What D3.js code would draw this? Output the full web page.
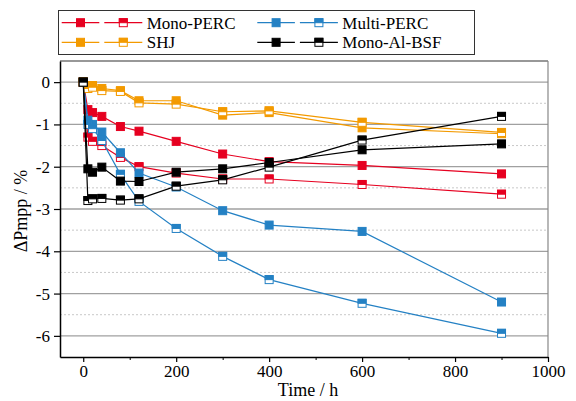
<!DOCTYPE html>
<html><head><meta charset="utf-8">
<script src="https://cdn.jsdelivr.net/npm/d3@7"></script>
<style>body{margin:0;background:#fff}svg{display:block}svg text{font-family:"Liberation Serif","Times New Roman",serif !important}</style>
</head><body>
<script>
const times = [0, 10, 20, 40, 80, 120, 200, 300, 400, 600, 900];
const monoPercFilled = [0, -0.65, -0.72, -0.81, -1.05, -1.16, -1.4, -1.7, -1.88, -1.97, -2.17];
const monoPercOpen   = [0, -1.3, -1.4, -1.5, -1.78, -2.0, -2.15, -2.29, -2.29, -2.42, -2.65];
const multiFilled    = [0, -0.9, -1.0, -1.18, -1.67, -2.15, -2.48, -3.04, -3.38, -3.53, -5.2];
const multiOpen      = [0, -1.0, -1.1, -1.38, -2.18, -2.82, -3.46, -4.12, -4.67, -5.23, -5.94];
const shjFilled      = [0, -0.1, -0.08, -0.15, -0.2, -0.44, -0.44, -0.78, -0.72, -1.08, -1.22];
const shjOpen        = [0, -0.15, -0.12, -0.2, -0.22, -0.49, -0.52, -0.7, -0.68, -0.95, -1.19];
const alBsfFilled    = [0, -2.05, -2.13, -2.01, -2.34, -2.35, -2.13, -2.05, -1.9, -1.6, -1.46];
const alBsfOpen      = [0, -2.8, -2.76, -2.75, -2.79, -2.76, -2.46, -2.31, -2.01, -1.37, -0.81];
const xTicks = [0, 200, 400, 600, 800, 1000];
const yTicks = [0, -1, -2, -3, -4, -5, -6];
const legendNames = ["Mono-PERC", "Multi-PERC", "SHJ", "Mono-Al-BSF"];

const colors = {red: "#e60020", blue: "#2481c4", orange: "#f39a00", black: "#000000"};
const series = [
  {name: "Mono-PERC", color: colors.red, filled: monoPercFilled, open: monoPercOpen},
  {name: "Multi-PERC", color: colors.blue, filled: multiFilled, open: multiOpen},
  {name: "SHJ", color: colors.orange, filled: shjFilled, open: shjOpen},
  {name: "Mono-Al-BSF", color: colors.black, filled: alBsfFilled, open: alBsfOpen}
];

const W = 576, H = 401;
const m = {l: 60, r: 28, t: 61, b: 44};
const svg = d3.select("body").append("svg").attr("width", W).attr("height", H);
const x = d3.scaleLinear().domain([-50, 1000]).range([m.l, W - m.r]);
const y = d3.scaleLinear().domain([-6.5, 0.5]).range([H - m.b, m.t]);

// grid
const g = svg.append("g");
g.selectAll(".minor").data(d3.range(-6.5, 0.5, 1).filter(v => v > -6.5)).join("line")
  .attr("x1", m.l).attr("x2", W - m.r).attr("y1", d => y(d)).attr("y2", d => y(d))
  .attr("stroke", "#c8c8c8").attr("stroke-width", 1).attr("stroke-dasharray", "2,2");
g.selectAll(".major").data(yTicks).join("line")
  .attr("x1", m.l).attr("x2", W - m.r).attr("y1", d => y(d)).attr("y2", d => y(d))
  .attr("stroke", "#a0a0a0").attr("stroke-width", 1.3);

// frame top/right
svg.append("line").attr("x1", m.l).attr("x2", W - m.r).attr("y1", m.t).attr("y2", m.t).attr("stroke", "#333").attr("stroke-width", 1.2);
svg.append("line").attr("x1", W - m.r).attr("x2", W - m.r).attr("y1", m.t).attr("y2", H - m.b).attr("stroke", "#888").attr("stroke-width", 1.2);

// axes
const xAxis = svg.append("g").attr("transform", `translate(0,${H - m.b})`)
  .call(d3.axisBottom(x).tickValues(xTicks).tickSize(5).tickSizeOuter(0).tickPadding(3).tickFormat(d3.format("d")));
svg.append("g").attr("transform", `translate(0,${H - m.b})`)
  .call(d3.axisBottom(x).tickValues([100, 300, 500, 700, 900]).tickSize(3).tickSizeOuter(0).tickFormat(""))
  .select(".domain").remove();
const yAxis = svg.append("g").attr("transform", `translate(${m.l},0)`)
  .call(d3.axisLeft(y).tickValues(yTicks).tickSize(6).tickSizeOuter(0).tickPadding(4).tickFormat(d3.format("d")));
[xAxis, yAxis].forEach(a => {
  a.attr("font-family", null);
  a.selectAll("text").attr("font-size", 17).attr("fill", "#000");
  a.selectAll("line").attr("stroke", "#000").attr("stroke-width", 1.2);
  a.select(".domain").attr("stroke", "#000").attr("stroke-width", 1.5);
});
yAxis.selectAll("text").text(d => d === 0 ? "0" : "-" + Math.abs(d));

// axis titles
svg.append("text").attr("x", 308).attr("y", 396).attr("text-anchor", "middle").attr("font-size", 18).text("Time / h");
svg.append("text").attr("transform", `translate(27,${(m.t + H - m.b) / 2 + 2}) rotate(-90)`)
  .attr("text-anchor", "middle").attr("font-size", 18).text("ΔPmpp / %");

const S = 8;
function marker(sel, color, open) {
  sel.append("rect").attr("x", -S / 2).attr("y", -S / 2).attr("width", S).attr("height", S)
    .attr("fill", open ? "#fff" : color).attr("stroke", color).attr("stroke-width", 1);
  if (open) sel.append("rect").attr("x", -S / 2).attr("y", -S / 2).attr("width", S).attr("height", S / 2)
    .attr("fill", color).attr("stroke", color).attr("stroke-width", 1);
}
const line = d3.line().x(d => x(d[0])).y(d => y(d[1]));
series.forEach(s => {
  ["filled", "open"].forEach(k => {
    const pts = times.map((t, j) => [t, s[k][j]]);
    svg.append("path").attr("d", line(pts)).attr("fill", "none").attr("stroke", s.color).attr("stroke-width", 1.2);
    pts.forEach(p => {
      const gm = svg.append("g").attr("transform", `translate(${x(p[0])},${y(p[1])})`);
      marker(gm, s.color, k === "open");
    });
  });
});

// legend
const lg = svg.append("g");
lg.append("rect").attr("x", 58.5).attr("y", 10.5).attr("width", 416).attr("height", 44)
  .attr("fill", "#fff").attr("stroke", "#333").attr("stroke-width", 1);
const legPos = [[0, 22.7], [195.6, 22.7], [0, 42.3], [195.6, 42.3]];
series.forEach((s, i) => {
  const [dx, yy] = legPos[i];
  [[61.7, 99.3, false], [104.3, 142.3, true]].forEach(([a, b, open]) => {
    lg.append("line").attr("x1", a + dx).attr("x2", b + dx).attr("y1", yy).attr("y2", yy).attr("stroke", s.color).attr("stroke-width", 1.2);
    const gm = lg.append("g").attr("transform", `translate(${(a + b) / 2 + dx},${yy})`);
    marker(gm, s.color, open);
  });
  lg.append("text").attr("x", 146.7 + dx).attr("y", yy + 6).attr("font-size", 17).text(legendNames[i]);
});
</script>
</body></html>
